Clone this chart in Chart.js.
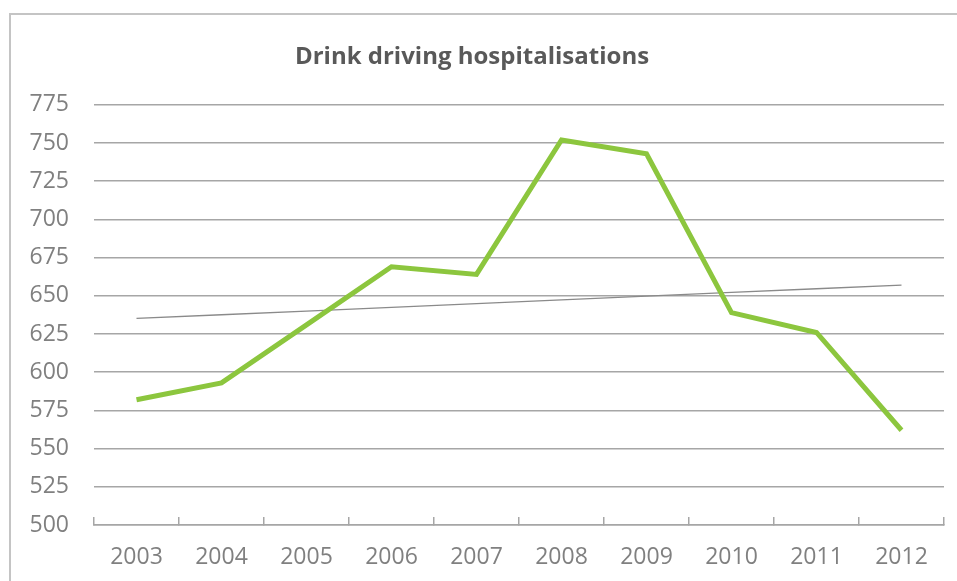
<!DOCTYPE html>
<html>
<head>
<meta charset="utf-8">
<script src="https://cdn.jsdelivr.net/npm/chart.js@4.4.1/dist/chart.umd.min.js"></script>
<style>
  html, body { margin: 0; padding: 0; background: #fff; }
  #wrap { width: 957px; height: 581px; position: relative; }
</style>
</head>
<body>
<div id="wrap"><canvas id="chart" width="957" height="581"></canvas></div>
<script>
// data
const years = ['2003', '2004', '2005', '2006', '2007', '2008', '2009', '2010', '2011', '2012'];
const hospitalisations = [582, 593, 631, 669, 664, 752, 743, 639, 626, 562];
const yTicks = [500, 525, 550, 575, 600, 625, 650, 675, 700, 725, 750, 775];

// linear trendline from the series (least squares)
function trendline(values) {
    const n = values.length;
    let sx = 0, sy = 0, sxy = 0, sxx = 0;
    for (let i = 0; i < n; i++) {
        sx += i; sy += values[i]; sxy += i * values[i]; sxx += i * i;
    }
    const slope = (n * sxy - sx * sy) / (n * sxx - sx * sx);
    const icpt = (sy - slope * sx) / n;
    return values.map((v, i) => icpt + slope * i);
}
const trend = trendline(hospitalisations);

// outer frame of the chart box
const framePlugin = {
    id: 'frame',
    beforeDraw(chart) {
        const ctx = chart.ctx;
        ctx.save();
        ctx.strokeStyle = '#c4c4c4';
        ctx.lineWidth = 2;
        ctx.strokeRect(10, 14, 1000, 700);
        ctx.restore();
    }
};

const tickFont = { family: '"Open Sans", sans-serif', size: 23 };

const config = {
    type: 'line',
    data: {
        labels: years,
        datasets: [
            {
                label: 'Hospitalisations',
                data: hospitalisations,
                borderColor: '#8cc63e',
                borderWidth: 5,
                pointRadius: 0,
                tension: 0,
                borderJoinStyle: 'miter',
                order: 1
            },
            {
                label: 'Trend',
                data: trend,
                borderColor: '#8a8a8a',
                borderWidth: 1.3,
                pointRadius: 0,
                order: 2
            }
        ]
    },
    options: {
        responsive: false,
        animation: false,
        layout: { padding: { left: 0, right: 13, top: 35, bottom: 10 } },
        plugins: {
            legend: { display: false },
            tooltip: { enabled: false },
            title: {
                display: true,
                text: 'Drink driving hospitalisations',
                color: '#595959',
                font: { family: '"Open Sans", sans-serif', size: 24, weight: 'bold' },
                padding: { top: 8, bottom: 33 }
            }
        },
        scales: {
            x: {
                offset: true,
                afterFit(scale) {
                    scale.height = 46;
                },
                grid: {
                    offset: true,
                    drawOnChartArea: false,
                    color: '#a6a6a6',
                    lineWidth: 1.5,
                    tickLength: -8
                },
                border: { display: true, color: '#a6a6a6', width: 1.5 },
                ticks: { color: '#808080', font: tickFont, padding: 27, maxRotation: 0 }
            },
            y: {
                min: 500,
                max: 775,
                afterBuildTicks(scale) {
                    scale.ticks = yTicks.map(v => ({ value: v }));
                },
                afterFit(scale) {
                    scale.width = 94;
                },
                grid: { color: '#a6a6a6', lineWidth: 1.5, drawTicks: false },
                border: { display: false },
                ticks: { color: '#808080', font: tickFont, padding: 25 }
            }
        }
    },
    plugins: [framePlugin]
};

const myChart = new Chart(document.getElementById('chart'), config);
</script>
</body>
</html>
